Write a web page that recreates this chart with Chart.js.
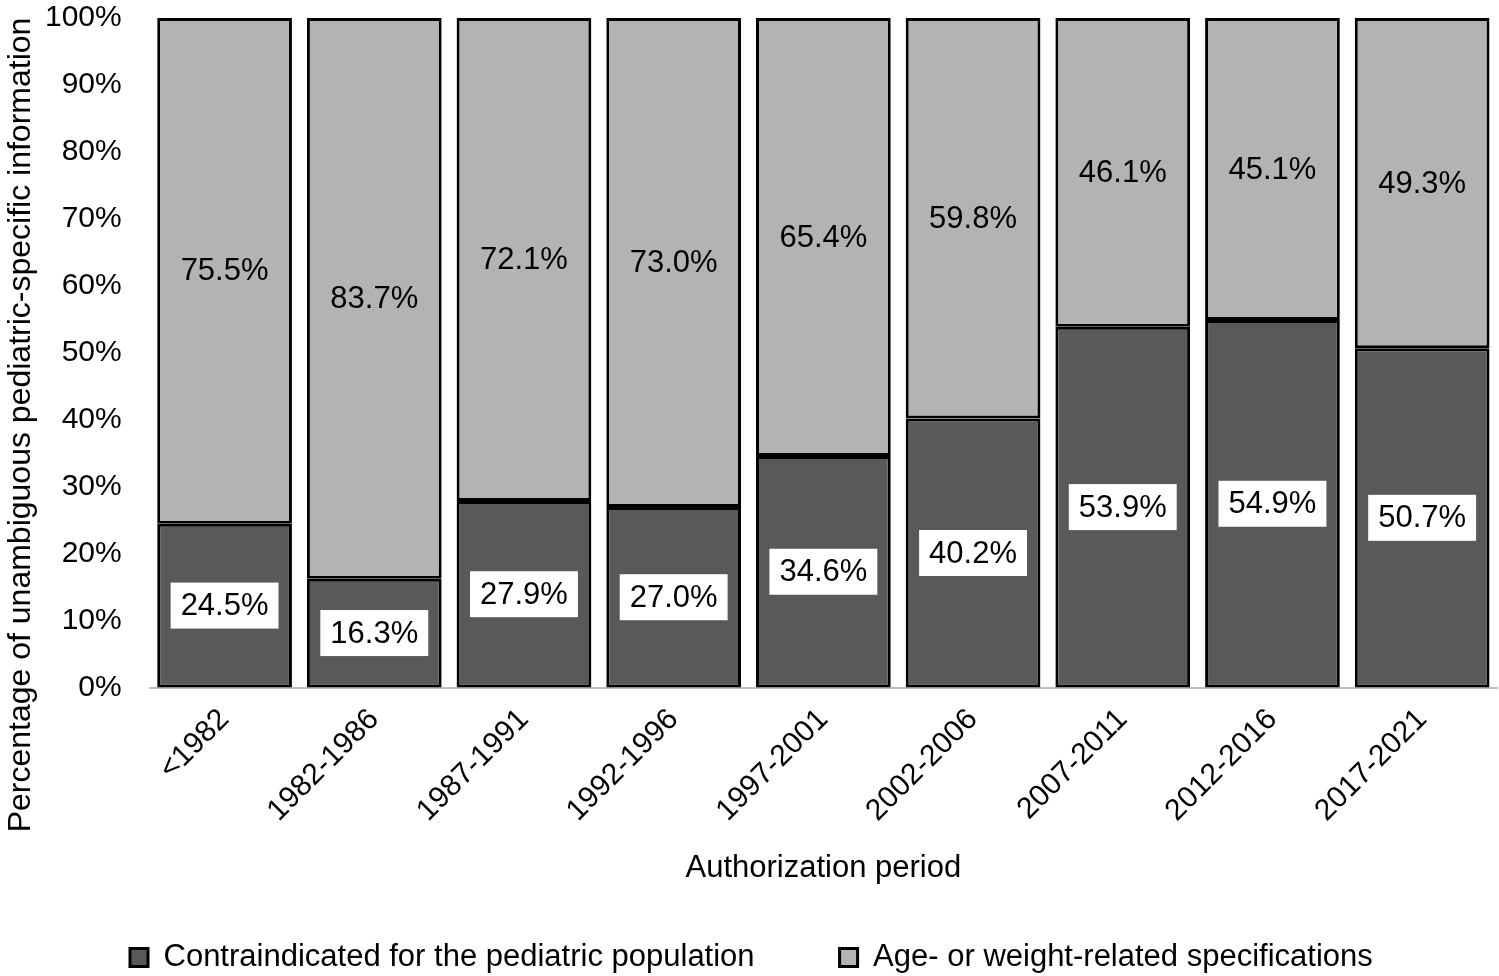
<!DOCTYPE html>
<html>
<head>
<meta charset="utf-8">
<script src="https://cdn.jsdelivr.net/npm/chart.js@4"></script>
<style>
  html, body { margin: 0; padding: 0; background: #fff; }
  #wrap { width: 1499px; height: 976px; }
</style>
</head>
<body>
<div id="wrap"><canvas id="c"></canvas></div>
<script>
// categorias y valores
const periods = ['<1982', '1982-1986', '1987-1991', '1992-1996', '1997-2001', '2002-2006', '2007-2011', '2012-2016', '2017-2021'];
const contraindicated = [24.5, 16.3, 27.9, 27.0, 34.6, 40.2, 53.9, 54.9, 50.7];
const ageWeight = [75.5, 83.7, 72.1, 73.0, 65.4, 59.8, 46.1, 45.1, 49.3];
const yTicks = [0, 10, 20, 30, 40, 50, 60, 70, 80, 90, 100];
const yTitle = 'Percentage of unambiguous pediatric-specific information';

const fontFam = 'Arial, "Liberation Sans", sans-serif';

// etiquetas dentro de las barras + titulo del eje y
const barLabels = {
    id: 'barLabels',
    afterDatasetsDraw(chart) {
        const ctx = chart.ctx;
        ctx.save();
        ctx.font = '31px ' + fontFam;
        ctx.textAlign = 'center';
        ctx.textBaseline = 'middle';
        chart.data.datasets.forEach((ds, di) => {
            const meta = chart.getDatasetMeta(di);
            meta.data.forEach((bar, i) => {
                const txt = ds.data[i].toFixed(1) + '%';
                const cy = (bar.y + bar.base) / 2;
                if (di === 0) {
                    const w = ctx.measureText(txt).width + 20;
                    ctx.fillStyle = '#fff';
                    ctx.fillRect(bar.x - w / 2, cy - 23, w, 46);
                }
                ctx.fillStyle = '#000';
                ctx.fillText(txt, bar.x, cy + 1);
            });
        });
        ctx.restore();
    },
    afterDraw(chart) {
        const ctx = chart.ctx;
        ctx.save();
        ctx.font = '32px ' + fontFam;
        ctx.fillStyle = '#000';
        ctx.textAlign = 'center';
        ctx.textBaseline = 'middle';
        ctx.translate(21, 425);
        ctx.rotate(-Math.PI / 2);
        ctx.fillText(yTitle, 0, 0);
        ctx.restore();
    }
};

new Chart(document.getElementById('c'), {
    type: 'bar',
    data: {
        labels: periods,
        datasets: [{
            label: 'Contraindicated for the pediatric population',
            data: contraindicated,
            backgroundColor: '#595959',
            borderColor: '#000',
            borderWidth: 3,
            borderSkipped: false
        }, {
            label: 'Age- or weight-related specifications',
            data: ageWeight,
            backgroundColor: '#b3b3b3',
            borderColor: '#000',
            borderWidth: 3,
            borderSkipped: false
        }]
    },
    options: {
        responsive: true,
        maintainAspectRatio: false,
        animation: false,
        datasets: {
            bar: { categoryPercentage: 1, barPercentage: 0.9 }
        },
        layout: { padding: { top: -9, right: 2, left: 45, bottom: -7 } },
        plugins: {
            tooltip: { enabled: false },
            legend: {
                position: 'bottom',
                align: 'start',
                labels: {
                    color: '#000',
                    font: { family: fontFam, size: 31 },
                    boxWidth: 18,
                    boxHeight: 18,
                    padding: 85
                }
            }
        },
        scales: {
            x: {
                stacked: true,
                grid: { display: false, drawTicks: false },
                border: { display: true, color: '#bfbfbf', width: 2 },
                ticks: {
                    color: '#000',
                    font: { family: fontFam, size: 30 },
                    maxRotation: 45,
                    minRotation: 45,
                    padding: 14
                },
                title: {
                    display: true,
                    text: 'Authorization period',
                    color: '#000',
                    font: { family: fontFam, size: 31 },
                    padding: { top: 7, bottom: -30 }
                }
            },
            y: {
                stacked: true,
                min: 0,
                max: 100,
                afterBuildTicks(axis) { axis.ticks = yTicks.map(v => ({ value: v })); },
                grid: {
                    display: true,
                    drawOnChartArea: false,
                    drawTicks: true,
                    tickLength: 28,
                    color: 'rgba(0,0,0,0)',
                    tickColor: 'rgba(0,0,0,0)'
                },
                border: { display: false },
                ticks: {
                    color: '#000',
                    font: { family: fontFam, size: 30 },
                    padding: 0,
                    callback: v => v + '%'
                }
            }
        }
    },
    plugins: [barLabels]
});
</script>
</body>
</html>
